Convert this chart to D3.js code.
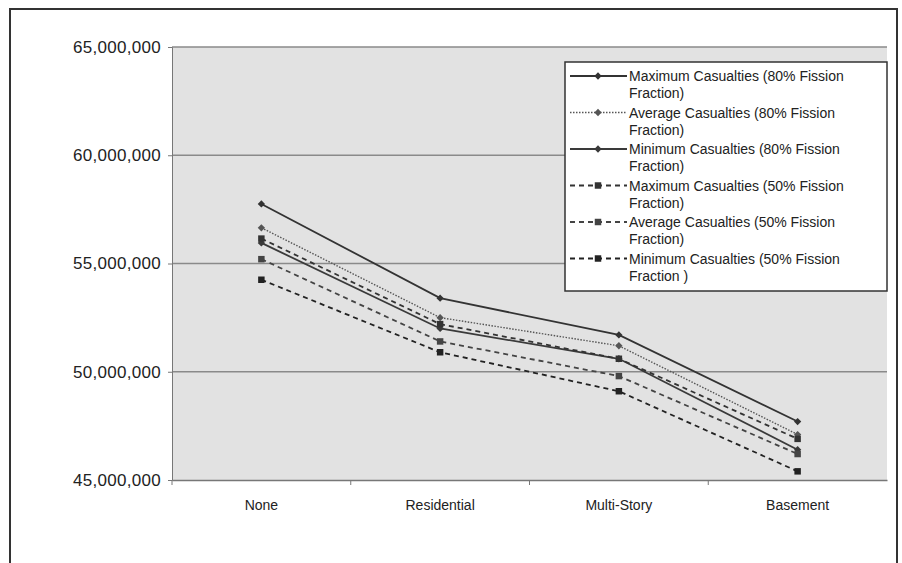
<!DOCTYPE html>
<html>
<head>
<meta charset="utf-8">
<script src="https://cdn.jsdelivr.net/npm/d3@7"></script>
<style>
  body { margin: 0; background: #fff; }
  text { font-family: "Liberation Sans", Arial, sans-serif; fill: #222; }
</style>
</head>
<body>
<div id="draw_line_chart"></div>
<script>
// categories on the x axis
var categories = ["None", "Residential", "Multi-Story", "Basement"];
// series names
var seriesNames = [
  "Maximum Casualties (80% Fission Fraction)",
  "Average Casualties (80% Fission Fraction)",
  "Minimum Casualties (80% Fission Fraction)",
  "Maximum Casualties (50% Fission Fraction)",
  "Average Casualties (50% Fission Fraction)",
  "Minimum Casualties (50% Fission Fraction )"
];
// values
var max80 = [57750000, 53400000, 51700000, 47700000];
var avg80 = [56650000, 52500000, 51200000, 47100000];
var min80 = [55950000, 52000000, 50600000, 46400000];
var max50 = [56150000, 52200000, 50600000, 46900000];
var avg50 = [55200000, 51400000, 49800000, 46200000];
var min50 = [54250000, 50900000, 49100000, 45400000];
var yTicks = [45000000, 50000000, 55000000, 60000000, 65000000];

var allSeries = [max80, avg80, min80, max50, avg50, min50];

var width = 902;
var height = 563;
// plot box
var plotLeft = 172, plotRight = 887, plotTop = 47, plotBottom = 480;

var svg = d3.select("#draw_line_chart").append("svg")
  .attr("width", width).attr("height", height);

// outer frame of the chart
svg.append("path")
  .attr("d", "M10,563 L10,9 L897,9 L897,563")
  .attr("fill", "none").attr("stroke", "#333").attr("stroke-width", 2);

// scales
var xScale = d3.scaleBand().domain(categories).range([plotLeft, plotRight]);
var yScale = d3.scaleLinear().domain([45000000, 65000000]).range([plotBottom, plotTop]);

// grey plot area
svg.append("rect")
  .attr("x", plotLeft).attr("y", plotTop)
  .attr("width", plotRight - plotLeft).attr("height", plotBottom - plotTop)
  .attr("fill", "#e2e2e2");

// gridlines
svg.append("g").selectAll("line").data(yTicks.slice(1)).enter().append("line")
  .attr("x1", plotLeft).attr("x2", plotRight)
  .attr("y1", function(d) { return yScale(d); })
  .attr("y2", function(d) { return yScale(d); })
  .attr("stroke", "#8a8a8a").attr("stroke-width", 1.5);

// y axis
var yAxis = d3.axisLeft(yScale).tickValues(yTicks).tickSize(4)
  .tickFormat(d3.format(","));
var yG = svg.append("g").attr("transform", "translate(" + plotLeft + ",0)").call(yAxis);
yG.select(".domain").attr("stroke", "#777");
yG.selectAll(".tick line").attr("stroke", "#777");
yG.selectAll("text").attr("font-size", 17).attr("dx", -4).attr("letter-spacing", 0.3)
  .style("font-family", "'Liberation Sans', Arial, sans-serif").attr("fill", "#333");

// x axis
var xAxis = d3.axisBottom(xScale).tickSize(0).tickPadding(20);
var xG = svg.append("g").attr("transform", "translate(0," + plotBottom + ")").call(xAxis);
xG.select(".domain").attr("stroke", "#777").attr("stroke-width", 1.5);
xG.selectAll("text").attr("font-size", 14).attr("fill", "#333")
  .style("font-family", "'Liberation Sans', Arial, sans-serif");
// tick marks between categories
xG.append("g").selectAll("line").data(categories).enter().append("line")
  .attr("x1", function(d) { return xScale(d); })
  .attr("x2", function(d) { return xScale(d); })
  .attr("y1", 0).attr("y2", 5).attr("stroke", "#777");

// line styles for each series
var styles = [
  { dash: null, width: 1.8, color: "#333", marker: "diamond" },
  { dash: "1.5,1.5", width: 1.4, color: "#555", marker: "diamond" },
  { dash: null, width: 1.8, color: "#3a3a3a", marker: "diamond" },
  { dash: "5,4", width: 1.8, color: "#333", marker: "square" },
  { dash: "5,4", width: 1.8, color: "#444", marker: "square" },
  { dash: "5,4", width: 1.8, color: "#222", marker: "square" }
];

var line = d3.line()
  .x(function(d, i) { return xScale(categories[i]) + xScale.bandwidth() / 2; })
  .y(function(d) { return yScale(d); });

allSeries.forEach(function(values, s) {
  var st = styles[s];
  svg.append("path").datum(values)
    .attr("d", line).attr("fill", "none")
    .attr("stroke", st.color).attr("stroke-width", st.width)
    .attr("stroke-dasharray", st.dash);
  var sym = d3.symbol().type(st.marker == "square" ? d3.symbolSquare : d3.symbolDiamond2)
    .size(st.marker == "square" ? 42 : 34);
  svg.append("g").selectAll("path").data(values).enter().append("path")
    .attr("d", sym)
    .attr("transform", function(d, i) {
      return "translate(" + (xScale(categories[i]) + xScale.bandwidth() / 2) + "," + yScale(d) + ")";
    })
    .attr("fill", st.color);
});

// legend
var legX = 565, legY = 62;
svg.append("rect")
  .attr("x", legX).attr("y", legY).attr("width", 322).attr("height", 229)
  .attr("fill", "#fff").attr("stroke", "#333").attr("stroke-width", 1.5);

seriesNames.forEach(function(name, s) {
  var st = styles[s];
  var y0 = legY + 14 + s * 36.5;
  var g = svg.append("g");
  g.append("line")
    .attr("x1", legX + 5).attr("x2", legX + 62).attr("y1", y0).attr("y2", y0)
    .attr("stroke", st.color).attr("stroke-width", st.width)
    .attr("stroke-dasharray", st.dash);
  g.append("path")
    .attr("d", d3.symbol().type(st.marker == "square" ? d3.symbolSquare : d3.symbolDiamond2)
      .size(st.marker == "square" ? 42 : 34))
    .attr("transform", "translate(" + (legX + 33) + "," + y0 + ")")
    .attr("fill", st.color);
  // split name into two lines at "Fraction"
  var cut = name.lastIndexOf(" Fraction");
  g.append("text").attr("x", legX + 64).attr("y", y0 + 5)
    .attr("font-size", 14).text(name.slice(0, cut));
  g.append("text").attr("x", legX + 64).attr("y", y0 + 22)
    .attr("font-size", 14).text(name.slice(cut + 1));
});
</script>
</body>
</html>
